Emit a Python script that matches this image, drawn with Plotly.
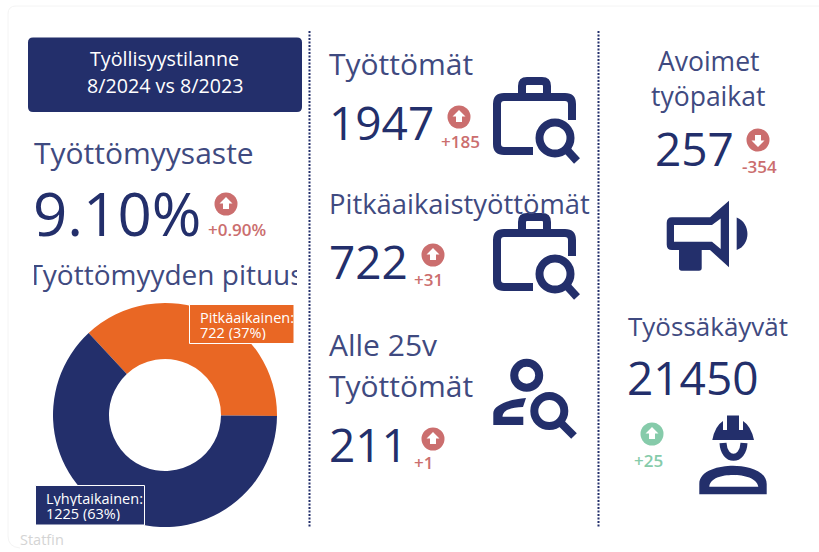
import plotly.graph_objects as go

NAVY = "#232f6b"
ORANGE = "#e96724"
RED = "#cb6e6e"
GREEN = "#86cbaa"
TEXT = "#3f4a80"

# Data
duration_labels = ["Pitkäaikainen", "Lyhytaikainen"]
duration_values = [722, 1225]
duration_share = ["37%", "63%"]
rate_value = "9.10%"
rate_delta = "+0.90%"
unemployed = "1947"
unemployed_delta = "+185"
long_term = "722"
long_term_delta = "+31"
youth = "211"
youth_delta = "+1"
vacancies = "257"
vacancies_delta = "-354"
employed = "21450"
employed_delta = "+25"

FONT = "Open Sans"
NUM_W = 500
DELTA = 17
shapes, annos = [], []


def text(x, y, s, size, color=TEXT, anchor="left", weight=400, **kw):
    annos.append(dict(x=x, y=y, text=s, xref="x", yref="y", showarrow=False, xanchor=anchor, yanchor="middle",
                      font=dict(family=FONT, size=size, color=color, weight=weight), borderpad=0, borderwidth=0, **kw))


def clipped(x, y, s, size, width, height, color="white", align="left", xanchor="left"):
    annos.append(dict(x=x, y=y, text=s, xref="x", yref="y", showarrow=False, xanchor=xanchor, yanchor="middle",
                      width=width, height=height, align=align, borderpad=0, borderwidth=0,
                      font=dict(family=FONT, size=size, color=color)))


def path(d, fill=None, line=None, w=0, rule=None):
    s = dict(type="path", path=d, xref="x", yref="y", line=dict(width=w, color=line or "rgba(0,0,0,0)"))
    if fill:
        s["fillcolor"] = fill
    if rule:
        s["fillrule"] = rule
    shapes.append(s)


def circle(cx, cy, r, fill=None, line=None, w=0):
    s = dict(type="circle", x0=cx - r, x1=cx + r, y0=cy - r, y1=cy + r, xref="x", yref="y",
             line=dict(width=w, color=line or "rgba(0,0,0,0)"))
    if fill:
        s["fillcolor"] = fill
    shapes.append(s)


def badge(cx, cy, up=True, color=RED):
    circle(cx, cy, 11.5, fill=color)
    d = 1 if up else -1
    path(f"M{cx},{cy-7*d} L{cx+6.5},{cy-0.5*d} H{cx+3} V{cy+5*d} H{cx-3} V{cy-0.5*d} H{cx-6.5} Z", fill="white")


def briefcase(oy):
    path(f"M533,{oy+74} H504 Q497,{oy+74} 497,{oy+67} V{oy+27} Q497,{oy+20} 504,{oy+20} H565 Q572,{oy+20} 572,{oy+27} V{oy+43}",
         line=NAVY, w=8)
    path(f"M522,{oy+19} V{oy+9} Q522,{oy+4} 527,{oy+4} H542 Q547,{oy+4} 547,{oy+9} V{oy+19}", line=NAVY, w=8)
    circle(555, oy + 61, 15.5, line=NAVY, w=8)
    path(f"M567,{oy+73} L577,{oy+84}", line=NAVY, w=8)


# Card and dividers
shapes.append(dict(type="path", xref="x", yref="y", line=dict(width=1, color="#f4f4f4"),
                   path="M16,6 H819 M8,14 V536 Q8,547 20,548 M8,14 Q8,6 16,6"))
for x in (309.5, 598.5):
    shapes.append(dict(type="line", x0=x, x1=x, y0=31, y1=528, xref="x", yref="y",
                       line=dict(width=2, color=NAVY, dash="2px,1.5px")))

# Title box
path("M33,37.5 H297 Q302,37.5 302,42.5 V107 Q302,112 297,112 H33 Q28,112 28,107 V42.5 Q28,37.5 33,37.5 Z", fill=NAVY)
text(164, 58, "Työllisyystilanne", 19.7, "white", "center")
text(164.5, 85, "8/2024 vs 8/2023", 19.7, "white", "center")

# Left column
text(34, 152, "Työttömyysaste", 30)
text(33, 213, rate_value, 60, NAVY, weight=NUM_W)
badge(226, 204)
text(237, 229, rate_delta, DELTA, RED, "center", weight=600)
clipped(165.5, 274, "Työttömyyden pituus", 28, 263, 40, color=TEXT, align="center", xanchor="center")

# Donut labels
path("M189.5,304.5 H294 V343.5 H189.5 Z", fill=ORANGE, line="white", w=1)
clipped(200, 316.5, f"{duration_labels[0]}:", 14.5, 94, 16)
clipped(200, 331.5, f"{duration_values[0]} ({duration_share[0]})", 14.5, 94, 16)
path("M35.5,485.5 H144.5 V525 H35.5 Z", fill=NAVY, line="white", w=1)
clipped(46, 498, f"{duration_labels[1]}:", 14.5, 98, 16)
clipped(46, 513, f"{duration_values[1]} ({duration_share[1]})", 14.5, 98, 16)
text(20, 539, "Statfin", 14.5, "#d4d4d4")

# Middle column
text(329, 63.5, "Työttömät", 30)
text(329, 122, unemployed, 46, NAVY, weight=NUM_W)
badge(459, 117)
text(460, 141, unemployed_delta, DELTA, RED, "center", weight=600)
briefcase(77)

text(329, 203, "Pitkäaikaistyöttömät", 27.4)
text(329, 261, long_term, 46, NAVY, weight=NUM_W)
badge(433, 255)
text(428, 279, long_term_delta, DELTA, RED, "center", weight=600)
briefcase(213)

text(329, 344, "Alle 25v", 30)
text(329, 385, "Työttömät", 30)
text(329, 444, youth, 46, NAVY, weight=NUM_W)
badge(433, 439)
text(423, 462, youth_delta, DELTA, RED, "center", weight=600)
# person search icon
circle(526.7, 375.3, 12.5, line=NAVY, w=8)
path("M493.3,425 V413 C493.3,405 510,399 526,398 L523,407 C512,407 503,410 502.5,416.7 H523.3 V425 Z", fill=NAVY)
circle(549.3, 411, 15, line=NAVY, w=8)
path("M561,423 L574,436", line=NAVY, w=8)

# Right column
text(708, 61, "Avoimet", 26.5, anchor="center")
text(708, 96, "työpaikat", 26.5, anchor="center")
text(655, 148, vacancies, 46, NAVY, weight=NUM_W)
badge(758, 140, up=False)
text(759, 166, vacancies_delta, DELTA, RED, "center", weight=600)
path("M666.7,223 Q666.7,217.3 672,217.3 H710 L729,200.7 V267.3 L710,250 H701.7 V268 Q701.7,270.7 699,270.7 H681.7 Q679,270.7 679,268 V250 H672 "
     "Q666.7,250 666.7,244.5 Z M674,225 V241.7 H712 L720.7,249 V218.5 L712,225 Z", fill=NAVY, rule="evenodd")
path("M736.7,217.5 C751,223 751,245 736.7,250 Z", fill=NAVY)

text(628, 326, "Työssäkäyvät", 26)
text(627, 377, employed, 46, NAVY, weight=NUM_W)
badge(652, 434, color=GREEN)
text(648, 460, employed_delta, DELTA, GREEN, "center", weight=600)
path("M712.3,440 Q715,426 723,421 V430 H727 V415.5 H739 V430 H743 V421 Q751,426 754,440 Z", fill=NAVY)
path("M723,443 C724,462 743,462 744,443", line=NAVY, w=7)
path("M699.3,494.3 V484 C699.3,470 720,465.7 733,465.7 C746,465.7 766.7,470 766.7,484 V494.3 Z "
     "M709.3,486.7 C710,478 722,475 733,475 C744,475 757,478 758.3,486.7 Z", fill=NAVY, rule="evenodd")

W, H = 819, 552
pie = go.Pie(labels=duration_labels, values=duration_values, hole=0.5, sort=False, direction="clockwise",
             rotation=-43, textinfo="none", showlegend=False, marker=dict(colors=[ORANGE, NAVY], line=dict(width=0)),
             domain=dict(x=[53 / W, 277 / W], y=[1 - 527 / H, 1 - 303 / H]))
fig = go.Figure(pie)
fig.add_trace(go.Scatter(x=[], y=[], showlegend=False))
fig.update_layout(
    width=W, height=H, margin=dict(l=0, r=0, t=0, b=0), paper_bgcolor="white", plot_bgcolor="rgba(0,0,0,0)",
    xaxis=dict(range=[0, W], visible=False, fixedrange=True),
    yaxis=dict(range=[H, 0], visible=False, fixedrange=True),
    shapes=shapes, annotations=annos, font=dict(family=FONT), showlegend=False,
)
fig.write_html("out.html", config=dict(displayModeBar=False),
               post_script="document.body.style.margin='0';document.body.style.overflow='hidden';")
